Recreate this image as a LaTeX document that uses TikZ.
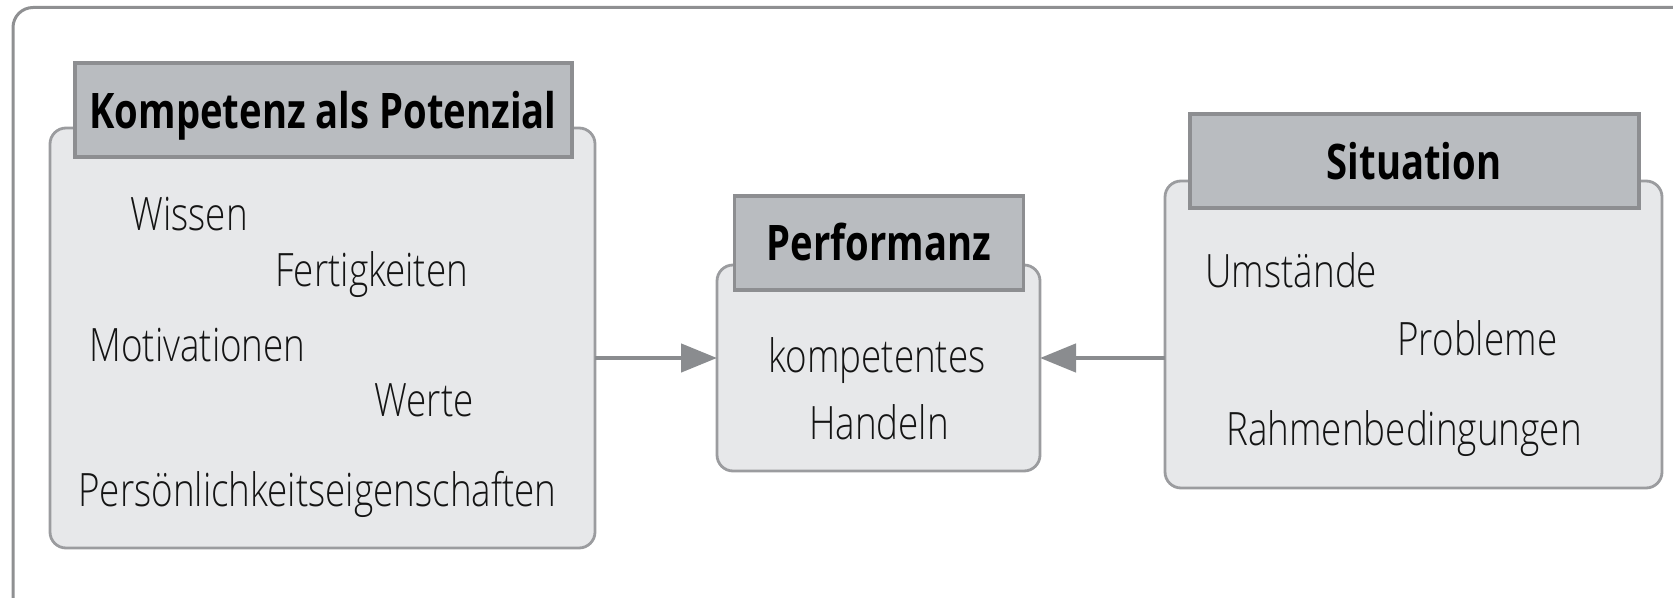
\documentclass[tikz,border=0pt]{standalone}
\usepackage{fontspec}
\setmainfont{Open Sans}[FakeStretch=0.78]
\newfontfamily\lightfont{Open Sans Light}[FakeStretch=0.8]
\usetikzlibrary{arrows.meta}
\definecolor{headfill}{HTML}{B9BCC0}
\definecolor{headdraw}{HTML}{8D8E91}
\definecolor{bodyfill}{HTML}{E7E8EA}
\definecolor{bodydraw}{HTML}{9B9C9F}
\definecolor{framedraw}{HTML}{8F9092}
\definecolor{arrowcol}{HTML}{8A8C8F}
\definecolor{textcol}{HTML}{141414}
\begin{document}
\begin{tikzpicture}[x=0.5pt,y=-0.5pt,
  bodybox/.style={draw=bodydraw, fill=bodyfill, line width=1.4pt, rounded corners=8pt, inner sep=0pt, outer sep=0pt},
  headbox/.style={draw=headdraw, fill=headfill, line width=1.6pt, inner sep=0pt, outer sep=0pt},
  headtext/.style={font=\fontsize{24.5}{29}\selectfont\bfseries, text=black, inner sep=0pt, anchor=base},
  itemtext/.style={font=\lightfont\fontsize{23}{28}\selectfont, text=textcol, inner sep=0pt, anchor=base west},
  itemc/.style={itemtext, anchor=base},
  arr/.style={draw=arrowcol, line width=2.3pt, -{Triangle[length=18pt,width=14pt]}}]

\useasboundingbox (0,0) rectangle (1673,598);
\begin{scope}
  \clip (0,0) rectangle (1673,598);
  \draw[draw=framedraw, line width=1.5pt, rounded corners=10pt] (13,7.5) rectangle (1700,620);
\end{scope}

% bodies
\node[bodybox, minimum width=272.5pt, minimum height=210pt] (kbody) at (322.5,338) {};
\node[bodybox, minimum width=161.5pt, minimum height=103pt] (pbody) at (878.5,368) {};
\node[bodybox, minimum width=248.5pt, minimum height=153.5pt] (sbody) at (1413.5,334.5) {};

% headers
\node[headbox, minimum width=248.5pt, minimum height=47pt] (khead) at (323.5,110) {};
\node[headbox, minimum width=144.5pt, minimum height=47pt] (phead) at (879,243) {};
\node[headbox, minimum width=224.5pt, minimum height=47pt] (shead) at (1414.5,161) {};

% header texts
\node[headtext] (kt) at (323,129) {Kompetenz als Potenzial};
\node[headtext] (pt) at (879,261) {Performanz};
\node[headtext] (st) at (1414,180) {Situation};

% items
\node[itemtext] (wissen) at (130,231) {Wissen};
\node[itemtext] (fert) at (275,287) {Fertigkeiten};
\node[itemtext] (motiv) at (89,361) {Motivationen};
\node[itemtext] (werte) at (374,416) {Werte};
\node[itemtext] (pers) at (78,506) {Persönlichkeitseigenschaften};

\node[itemc] (komp) at (877,372) {kompetentes};
\node[itemc] (hand) at (879,439) {Handeln};

\node[itemtext] (umst) at (1205,288) {Umstände};
\node[itemtext] (probl) at (1397,355) {Probleme};
\node[itemtext] (rahmen) at (1226,445) {Rahmenbedingungen};

% arrows
\coordinate (ay) at (0,358);
\draw[arr] (kbody.east |- ay) -- (pbody.west |- ay);
\draw[arr] (sbody.west |- ay) -- (pbody.east |- ay);
\end{tikzpicture}
\end{document}
